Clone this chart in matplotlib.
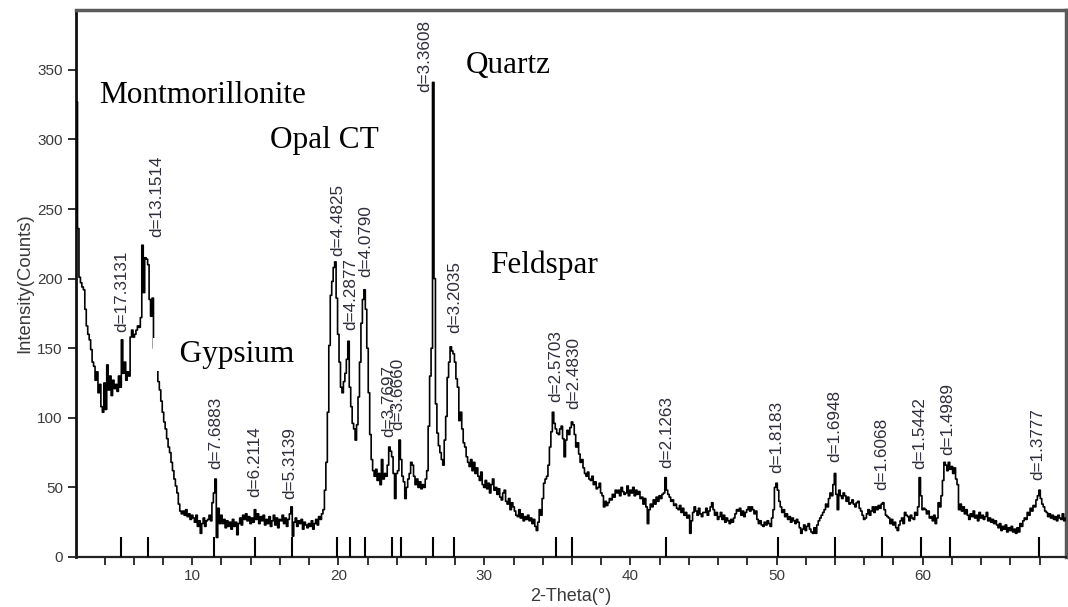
import numpy as np
import matplotlib
matplotlib.use('Agg')
import matplotlib.pyplot as plt
from matplotlib.ticker import MultipleLocator

# XRD scan, counts on a 0.1 degree grid starting at 2.1
counts_02_10 = [
    327, 236, 201, 197, 194, 192, 178, 166, 160, 156,
    149, 140, 137, 127, 133, 118, 124, 108, 104, 125,
    106, 138, 120, 130, 116, 127, 121, 124, 119, 130,
    122, 156, 132, 140, 127, 133, 130, 158, 163, 158,
    160, 163, 166, 165, 172, 224, 190, 215, 214, 210,
    185, 173, 186, 150, 144, 135, 126, 120, 112, 104,
    97, 92, 85, 79, 75, 68, 62, 56, 51, 46,
    38, 33, 31, 33, 30, 34, 29, 31, 27, 30,
]
counts_10_20 = [
    28, 25, 30, 22, 26, 17, 24, 28, 22, 26,
    27, 30, 26, 39, 46, 56, 14, 35, 24, 30,
    24, 27, 21, 26, 22, 25, 20, 27, 22, 25,
    16, 24, 28, 23, 30, 27, 31, 26, 29, 24,
    28, 25, 34, 27, 31, 24, 29, 26, 30, 23,
    27, 24, 29, 22, 26, 30, 23, 28, 21, 27,
    26, 30, 24, 28, 22, 27, 31, 36, 15, 25,
    28, 22, 26, 24, 27, 20, 25, 23, 21, 24,
    22, 26, 20, 24, 27, 23, 29, 27, 31, 34,
    48, 68, 104, 152, 188, 198, 208, 212, 186, 160,
]
counts_20_30 = [
    140, 122, 118, 126, 132, 142, 155, 122, 108, 96,
    92, 84, 95, 115, 140, 168, 185, 192, 178, 150,
    118, 88, 70, 62, 58, 63, 55, 60, 52, 70,
    56, 60, 58, 66, 79, 76, 72, 60, 42, 60,
    62, 84, 70, 58, 54, 42, 50, 56, 60, 68,
    66, 58, 52, 56, 50, 54, 49, 52, 50, 56,
    62, 94, 130, 150, 341, 200, 110, 89, 80, 75,
    70, 66, 84, 101, 129, 140, 151, 148, 146, 140,
    128, 122, 98, 104, 92, 82, 79, 72, 68, 65,
    70, 62, 68, 60, 64, 58, 55, 61, 52, 50,
]
counts_30_40 = [
    55, 49, 53, 46, 52, 56, 48, 50, 45, 49,
    43, 41, 46, 48, 40, 38, 42, 34, 39, 36,
    33, 30, 29, 34, 28, 31, 26, 29, 27, 30,
    26, 28, 24, 27, 22, 19, 25, 34, 30, 42,
    53, 56, 58, 66, 79, 90, 104, 96, 92, 89,
    88, 92, 94, 85, 72, 84, 91, 88, 93, 97,
    95, 88, 79, 82, 74, 68, 70, 64, 60, 58,
    61, 56, 55, 58, 52, 54, 49, 50, 53, 46,
    44, 36, 40, 37, 39, 42, 41, 45, 43, 48,
    46, 48, 44, 50, 47, 45, 46, 51, 44, 48,
]
counts_40_50 = [
    46, 50, 44, 48, 45, 47, 42, 43, 38, 42,
    36, 24, 34, 38, 36, 41, 38, 43, 40, 44,
    42, 45, 46, 57, 48, 45, 43, 40, 41, 37,
    38, 35, 34, 37, 32, 35, 30, 32, 28, 30,
    17, 26, 32, 36, 33, 30, 35, 31, 29, 32,
    32, 35, 30, 33, 36, 39, 34, 30, 32, 27,
    29, 32, 27, 30, 25, 28, 26, 24, 27, 25,
    28, 31, 34, 33, 35, 30, 33, 29, 32, 34,
    36, 33, 36, 34, 31, 33, 27, 24, 26, 23,
    22, 25, 23, 26, 24, 22, 28, 34, 50, 53,
]
counts_50_60 = [
    48, 40, 36, 32, 34, 29, 31, 27, 29, 25,
    28, 26, 24, 27, 25, 21, 17, 20, 23, 19,
    22, 24, 20, 18, 17, 21, 17, 23, 26, 28,
    30, 32, 34, 38, 36, 42, 46, 44, 52, 60,
    45, 34, 48, 44, 42, 46, 44, 40, 43, 38,
    39, 41, 38, 36, 39, 40, 35, 33, 30, 27,
    28, 31, 34, 30, 33, 36, 32, 36, 34, 37,
    35, 38, 39, 34, 30, 29, 28, 24, 27, 23,
    25, 21, 19, 23, 26, 28, 24, 32, 30, 29,
    26, 30, 28, 27, 32, 30, 36, 57, 44, 34,
]
counts_60_70 = [
    35, 34, 31, 33, 28, 29, 26, 30, 24, 28,
    39, 36, 44, 55, 68, 66, 62, 68, 63, 65,
    60, 64, 56, 52, 34, 38, 33, 36, 31, 34,
    30, 27, 31, 29, 33, 28, 30, 26, 32, 28,
    30, 27, 29, 32, 26, 28, 25, 27, 24, 26,
    23, 21, 24, 19, 22, 20, 23, 18, 21, 19,
    22, 18, 20, 17, 21, 18, 24, 22, 26, 28,
    27, 32, 30, 35, 33, 37, 36, 41, 44, 48,
    42, 38, 36, 33, 32, 29, 31, 28, 30, 27,
    29, 26, 30, 28, 27, 31, 26, 28,
]

# identified peaks: d-spacing labels, marker position, label base height
peak_labels = ['d=17.3131', 'd=13.1514', 'd=7.6883', 'd=6.2114', 'd=5.3139',
               'd=4.4825', 'd=4.2877', 'd=4.0790', 'd=3.7697', 'd=3.6660',
               'd=3.3608', 'd=3.2035', 'd=2.5703', 'd=2.4830', 'd=2.1263',
               'd=1.8183', 'd=1.6948', 'd=1.6068', 'd=1.5442', 'd=1.4989',
               'd=1.3777']
peak_theta = [5.15, 7.0, 11.5, 14.3, 16.8, 19.9, 20.8, 21.8, 23.65, 24.3,
              26.45, 27.9, 34.9, 36.0, 42.4, 50.1, 54.0, 57.2, 59.9, 61.9, 67.95]
label_theta = [5.15, 7.54, 11.64, 14.3, 16.7, 19.95, 20.85, 21.88, 23.45, 24.04,
               25.9, 27.95, 34.9, 36.15, 42.5, 50.0, 54.0, 57.2, 59.8, 61.74, 67.9]
label_base = [162, 230, 63, 43, 42, 216, 163, 201, 86, 91,
              334, 161, 111, 106, 64, 60, 68, 48, 63, 73, 55]

# phase names
phase_names = ['Montmorillonite', 'Opal CT', 'Quartz', 'Feldspar', '   Gypsium']
phase_x = [3.6, 15.35, 28.7, 30.4, 7.5]
phase_y = [326, 294, 348, 204, 140]

counts = np.array(counts_02_10 + counts_10_20 + counts_20_30 + counts_30_40
                  + counts_40_50 + counts_50_60 + counts_60_70, dtype=float)
theta = 2.1 + 0.1 * np.arange(len(counts))

fig = plt.figure(figsize=(10.68, 6.07), dpi=100)
ax = fig.add_axes([0.0712, 0.0824, 0.9268, 0.9011])

ax.plot(theta, counts, color='black', lw=1.2, drawstyle='steps-mid', zorder=3)

# peak markers standing on the axis
ax.vlines(peak_theta, 0, 14, color='black', lw=1.5, zorder=4)

lab_font = dict(family='Liberation Sans', size=12.3, color='#2e2e3c')
for txt, xt, yb in zip(peak_labels, label_theta, label_base):
    ax.text(xt, yb, txt, rotation=90, ha='center', va='bottom', zorder=5, **lab_font)

for name, xp, yp in zip(phase_names, phase_x, phase_y):
    t = ax.text(xp, yp, name, family='Liberation Serif', size=22.5, color='black',
                ha='left', va='baseline', zorder=6)
    if 'Gypsium' in name:
        t.set_bbox(dict(facecolor='white', edgecolor='none', pad=1.5))

ax.set_xlim(2.05, 69.8)
ax.set_ylim(0, 393)
ax.xaxis.set_major_locator(MultipleLocator(10))
ax.xaxis.set_minor_locator(MultipleLocator(2))
ax.yaxis.set_major_locator(MultipleLocator(50))
ax.tick_params(axis='both', which='both', direction='out', length=6, width=1.3,
               color='#222222', labelcolor='#3a3a3a', labelsize=11)
ax.tick_params(axis='x', which='major', pad=3)
for lab in ax.get_xticklabels() + ax.get_yticklabels():
    lab.set_family('Liberation Sans')

ax.set_xlabel('2-Theta(°)', family='Liberation Sans', size=13, color='#3a3a3a', labelpad=3)
ax.set_ylabel('Intensity(Counts)', family='Liberation Sans', size=13.3, color='#3a3a3a', labelpad=3)

ax.spines['left'].set_linewidth(2)
ax.spines['left'].set_color('#111111')
ax.spines['bottom'].set_linewidth(1.6)
ax.spines['bottom'].set_color('#222222')
for s in ['top', 'right']:
    ax.spines[s].set_linewidth(2.5)
    ax.spines[s].set_color('#5a5a5a')

fig.savefig('out.png', dpi=100)
